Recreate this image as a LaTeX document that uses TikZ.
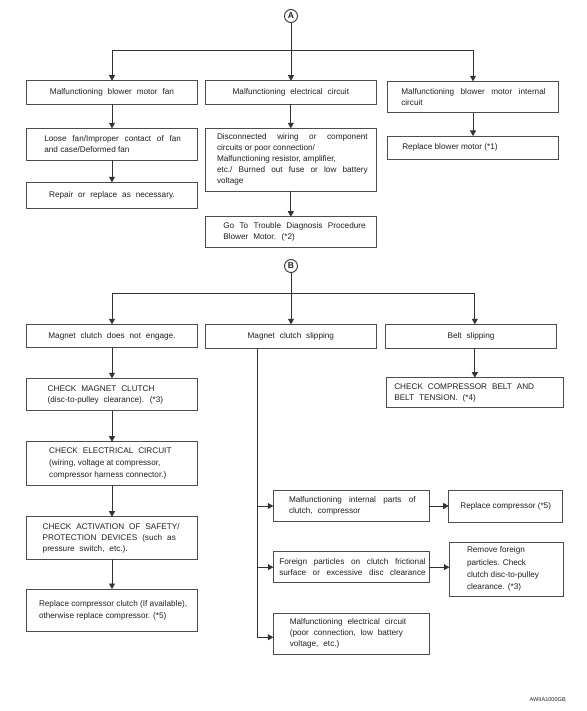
\documentclass[tikz,border=0pt]{standalone}
\usepackage{fontspec}
\setmainfont{Liberation Sans}
\usetikzlibrary{arrows.meta}
\definecolor{lnc}{HTML}{333333}
\definecolor{bxc}{HTML}{4D4D4D}
\definecolor{txc}{HTML}{1F1F1F}
\tolerance=10000
\hbadness=10000
\newcommand\fs{\fontsize{8.2}{11}\selectfont}
\newcommand\wsp{\spaceskip=4.9pt plus 3pt minus 0.5pt\relax}
\newcommand\nsp{\spaceskip=2.28pt plus 4pt minus 0.6pt\xspaceskip=0pt\relax}
\newcommand\alj[2]{\parindent=0pt\leftskip=#1pt\rightskip=#2pt\nsp\noindent}
\newcommand\all[1]{\parindent=0pt\leftskip=#1pt\rightskip=0pt plus 1fil\nsp\noindent}
\newcommand\alc{\parindent=0pt\leftskip=0pt plus 1fil\rightskip=0pt plus 1fil\parfillskip=0pt\nsp\noindent}
\newcommand\mkbox[6]{%
  \pgfmathsetmacro\bw{#4-#2}\pgfmathsetmacro\bh{#5-#3}%
  \node[box, minimum width=\bw pt, minimum height=\bh pt, text width=\bw pt] (#1) at (#2,#3) {#6\par};}
\begin{document}
\begin{tikzpicture}[x=1pt,y=-1pt,
  box/.style={draw=bxc, line width=0.75pt, anchor=north west, inner xsep=0pt, inner ysep=0pt, outer sep=0pt, font=\fs, text=txc},
  arr/.style={draw=lnc, line width=0.75pt, -{Triangle[length=5.5pt,width=6pt]}},
  lnk/.style={draw=lnc, line width=0.75pt},
  circ/.style={circle, draw=lnc, line width=0.9pt, inner sep=0pt, minimum size=13pt, font=\bfseries\fontsize{8.5}{8.5}\selectfont, text=txc},
  tag/.style={font=\fontsize{5.6}{6}\selectfont, text=txc, inner sep=0pt, anchor=east}]
\useasboundingbox (0,0) rectangle (586,711);

% ---- part A ----
\node[circ] (cA) at (291,16) {A};
\mkbox{b1}{26.7}{80.7}{197.3}{104.3}{\alc\wsp Malfunctioning blower motor fan}
\mkbox{b2}{205}{80.7}{376.7}{104.3}{\alc\wsp Malfunctioning electrical circuit}
\mkbox{b3}{387.3}{81.3}{558.7}{112.7}{\alj{14}{13}Malfunctioning blower motor internal\linebreak circuit}
\mkbox{b4}{26.7}{128.3}{197.3}{160}{\alj{17.6}{16.3}Loose fan/Improper contact of fan\linebreak and case/Deformed fan}
\mkbox{b5}{387.3}{136}{558.7}{159.3}{\all{15}Replace blower motor (*1)}
\mkbox{b6}{26.7}{182.3}{197.3}{208.3}{\alc\wsp Repair or replace as necessary.}
\mkbox{b7}{205}{128.3}{376.7}{191.3}{\alj{12}{9}Disconnected wiring or component\linebreak circuits or poor connection/\newline Malfunctioning resistor, amplifier,\newline etc./ Burned out fuse or low battery\linebreak voltage}
\mkbox{b8}{205.7}{216.7}{376.7}{247.3}{\alj{17.6}{11}\wsp Go To Trouble Diagnosis Procedure\linebreak Blower Motor. (*2)}

\coordinate (hA) at (291,50);
\coordinate (aL) at (b1.north |- hA);
\coordinate (aR) at (b3.north |- hA);
\draw[arr] (cA.south) -- (cA.south |- b2.north);
\draw[lnk] (aL) -- (aR);
\draw[arr] (aL) -- (b1.north);
\draw[arr] (aR) -- (b3.north);
\draw[arr] (b1.south) -- (b4.north);
\draw[arr] (b4.south) -- (b6.north);
\draw[arr] (b2.south) -- (b7.north);
\draw[arr] (b7.south) -- (b7.south |- b8.north);
\draw[arr] (b3.south) -- (b5.north);

% ---- part B ----
\node[circ] (cB) at (291,266) {B};
\mkbox{b9}{26.7}{324.3}{197.3}{347.7}{\alc\wsp Magnet clutch does not engage.}
\mkbox{b10}{205}{324.3}{376.7}{348}{\alc\wsp Magnet clutch slipping}
\mkbox{b11}{385.3}{324.3}{556.7}{348}{\alc\wsp Belt slipping}
\mkbox{b12}{386}{377.7}{563.7}{407.3}{\all{8.3}\wsp CHECK COMPRESSOR BELT AND\newline BELT TENSION. (*4)}
\mkbox{b13}{26.7}{378.3}{197.3}{410.7}{\all{21}\wsp CHECK MAGNET CLUTCH\newline (disc-to-pulley clearance). (*3)}
\mkbox{b14}{26.7}{441.7}{197.3}{485}{\fontsize{8.2}{11.7}\selectfont\all{22.5}{\wsp CHECK ELECTRICAL CIRCUIT}\newline (wiring, voltage at compressor,\newline compressor harness connector.)}
\mkbox{b15}{26.7}{516.7}{197.3}{559.3}{\all{16}\wsp CHECK ACTIVATION OF SAFETY/\newline PROTECTION DEVICES (such as\newline pressure switch, etc.).}
\mkbox{b16}{26.7}{589}{197.3}{631.7}{\fontsize{8.2}{11.7}\selectfont\all{12.3}Replace compressor clutch (If available),\newline otherwise replace compressor. (*5)}
\mkbox{b17}{273.3}{490.7}{429.3}{521.3}{\alj{15.7}{13.6}\wsp Malfunctioning internal parts of\linebreak clutch, compressor}
\mkbox{b18}{448.7}{490}{562.7}{522.3}{\alc Replace compressor (*5)}
\mkbox{b19}{273.3}{551.7}{429.3}{582.7}{\alj{6}{3.6}\parfillskip=0pt Foreign particles on clutch frictional\linebreak surface or excessive disc clearance}
\mkbox{b20}{449.3}{542.3}{563.3}{596}{\fontsize{8.2}{12.2}\selectfont\all{17.7}Remove foreign\newline particles. Check\newline clutch disc-to-pulley\newline clearance. (*3)}
\mkbox{b21}{273.3}{613.3}{429.3}{654}{\all{16.5}\wsp Malfunctioning electrical circuit\newline (poor connection, low battery\newline voltage, etc.)}

\coordinate (hB) at (291,293.3);
\coordinate (bL) at (b9.north |- hB);
\coordinate (bR) at (b12.north |- hB);
\draw[arr] (cB.south) -- (cB.south |- b10.north);
\draw[lnk] (bL) -- (bR);
\draw[arr] (bL) -- (b9.north);
\draw[arr] (bR) -- (bR |- b11.north);
\draw[arr] (b12.north |- b11.south) -- (b12.north);
\draw[arr] (b9.south) -- (b13.north);
\draw[arr] (b13.south) -- (b14.north);
\draw[arr] (b14.south) -- (b15.north);
\draw[arr] (b15.south) -- (b16.north);

\coordinate (tTop) at ([xshift=-33.55pt]b10.south);
\coordinate (b21w) at ([yshift=-3.6pt]b21.west);
\coordinate (t1) at (tTop |- b17.west);
\coordinate (t2) at (tTop |- b19.west);
\coordinate (t3) at (tTop |- b21w);
\draw[lnk] (tTop) -- (t3);
\draw[arr] (t1) -- (b17.west);
\draw[arr] (t2) -- (b19.west);
\draw[arr] (t3) -- (b21w);
\draw[arr] (b17.east) -- (b17.east -| b18.west);
\draw[arr] (b19.east) -- (b19.east -| b20.west);

\node[tag] (lbl) at (566,700) {AWIIA1000GB};
\end{tikzpicture}
\end{document}
